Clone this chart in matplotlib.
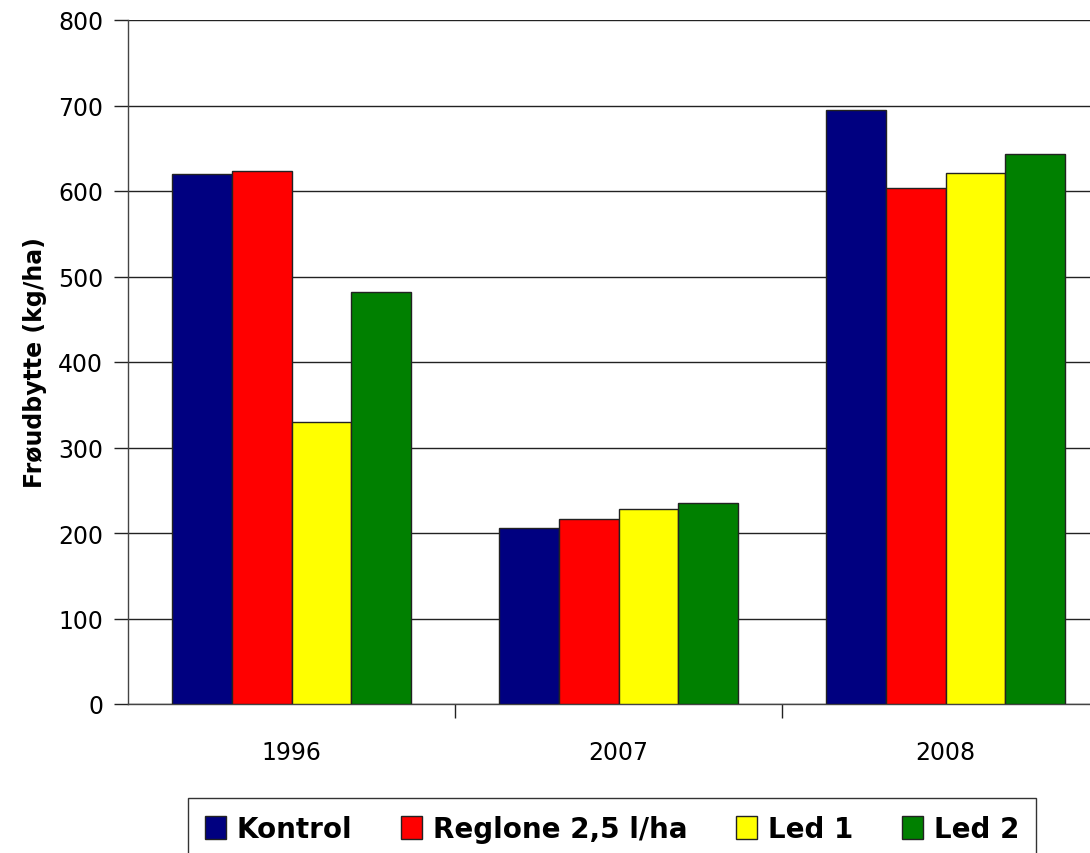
import matplotlib
matplotlib.use("Agg")
import matplotlib.pyplot as plt
import numpy as np

years = ["1996", "2007", "2008"]
series = ["Kontrol", "Reglone 2,5 l/ha", "Led 1", "Led 2"]
kontrol = [620, 206, 695]
reglone = [623, 216, 603]
led1 = [330, 228, 621]
led2 = [482, 235, 643]
colors = ["#000080", "#ff0000", "#ffff00", "#008000"]

plt.rcParams["font.family"] = ["DejaVu Sans"]

W, H = 1090, 854
fig = plt.figure(figsize=(W / 100, H / 100), dpi=100)
# axes extends past the right edge of the image, as in the reference
ax = fig.add_axes([128 / W, 1 - 705 / H, 981 / W, 684 / H])

x = np.arange(len(years))
bw = 0.183
values = [kontrol, reglone, led1, led2]
for i, (name, vals, c) in enumerate(zip(series, values, colors)):
    ax.bar(x + (i - 1.5) * bw, vals, bw, color=c, edgecolor="#222222",
           linewidth=1, label=name, zorder=3)

ax.set_xlim(-0.5, 2.5)
ax.set_ylim(0, 800)
ax.set_yticks(range(0, 801, 100))
ax.yaxis.grid(True, color="#222222", linewidth=1, zorder=0)
ax.set_xticks(x)
ax.set_xticklabels(years, fontsize=17)
ax.set_xticks([0.5, 1.5, 2.5], minor=True)
ax.tick_params(axis="x", which="major", length=0, pad=26)
ax.tick_params(axis="x", which="minor", length=10, width=1, color="#222222")
ax.tick_params(axis="y", length=10, width=1, color="#222222", labelsize=17, pad=8)
for s in ["top", "right"]:
    ax.spines[s].set_visible(False)
for s in ["left", "bottom"]:
    ax.spines[s].set_color("#444444")
    ax.spines[s].set_linewidth(1)

ax.set_ylabel("Frøudbytte (kg/ha)", fontsize=17, fontweight="bold", labelpad=8)

leg = fig.legend(loc="upper left", bbox_to_anchor=(188 / W, 1 - 799 / H), ncol=4,
                 frameon=True, fancybox=False, edgecolor="black",
                 prop={"size": 20, "weight": "bold"}, handlelength=0.75,
                 handleheight=0.9, handletextpad=0.4, columnspacing=1.75,
                 borderpad=0.6, borderaxespad=0)
leg.get_frame().set_linewidth(1)

fig.savefig("out.png", dpi=100)
